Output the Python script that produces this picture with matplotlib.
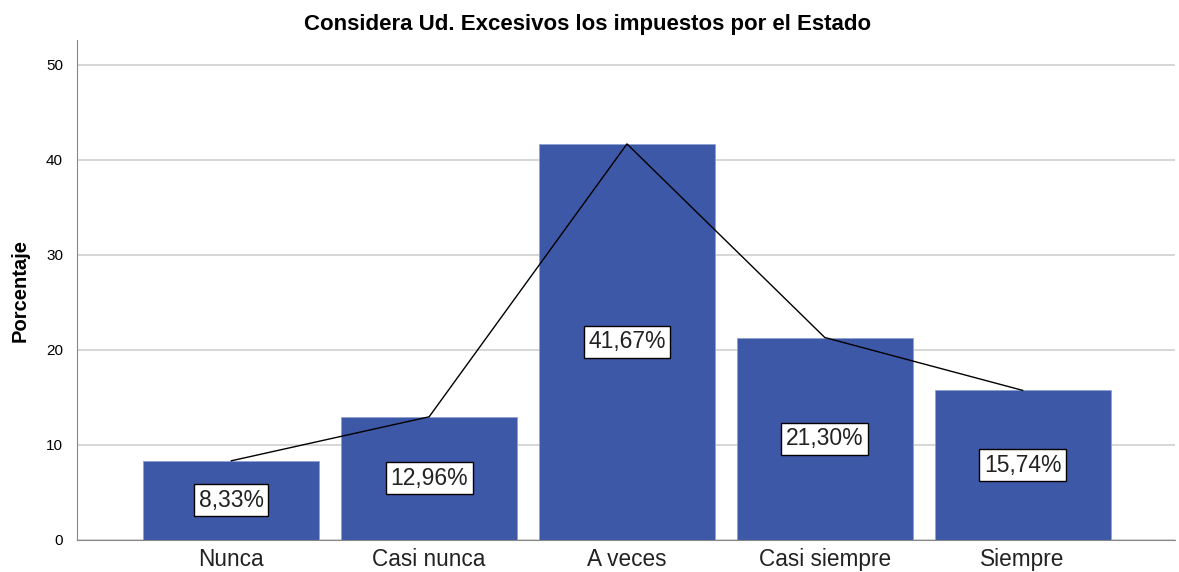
import matplotlib
matplotlib.use("Agg")
import matplotlib.pyplot as plt

plt.rcParams['font.family'] = ['Liberation Sans', 'DejaVu Sans']

categories = ["Nunca", "Casi nunca", "A veces", "Casi siempre", "Siempre"]
values = [8.33, 12.96, 41.67, 21.30, 15.74]
labels = ["8,33%", "12,96%", "41,67%", "21,30%", "15,74%"]

fig = plt.figure(figsize=(11.79, 5.72), dpi=100)
ax = fig.add_axes([0.0653, 0.056, 0.9313, 0.874])

x = list(range(len(categories)))
ax.bar(x, values, width=0.89, color="#3E58A8", edgecolor="#8FA0D0", linewidth=0.6, zorder=2)
ax.plot(x, values, color="black", linewidth=1.0, zorder=3)

for xi, v, lab in zip(x, values, labels):
    ax.text(xi, v / 2, lab, ha="center", va="center", fontsize=16.5, color="#222222", zorder=4,
            bbox=dict(boxstyle="square,pad=0.2", facecolor="white", edgecolor="black", linewidth=1))

ax.set_xlim(-0.78, 4.77)
ax.set_ylim(0, 52.6)
ax.set_yticks([0, 10, 20, 30, 40, 50])
ax.set_xticks(x)
ax.set_xticklabels(categories, fontsize=16.3, color="#222222")
ax.tick_params(axis="y", labelsize=11, length=0, pad=10)
ax.tick_params(axis="x", length=0, pad=6)
ax.yaxis.grid(True, color="#D0D0D0", linewidth=1.2, zorder=0)
ax.set_axisbelow(True)
for s in ["top", "right"]:
    ax.spines[s].set_visible(False)
ax.spines["left"].set_color("#888888")
ax.spines["bottom"].set_color("#888888")
ax.set_ylabel("Porcentaje", fontsize=14.5, fontweight="bold", labelpad=12)
fig.suptitle("Considera Ud. Excesivos los impuestos por el Estado", x=0.498, y=0.975,
             fontsize=16, fontweight="bold")

fig.savefig("out.png", dpi=100)
